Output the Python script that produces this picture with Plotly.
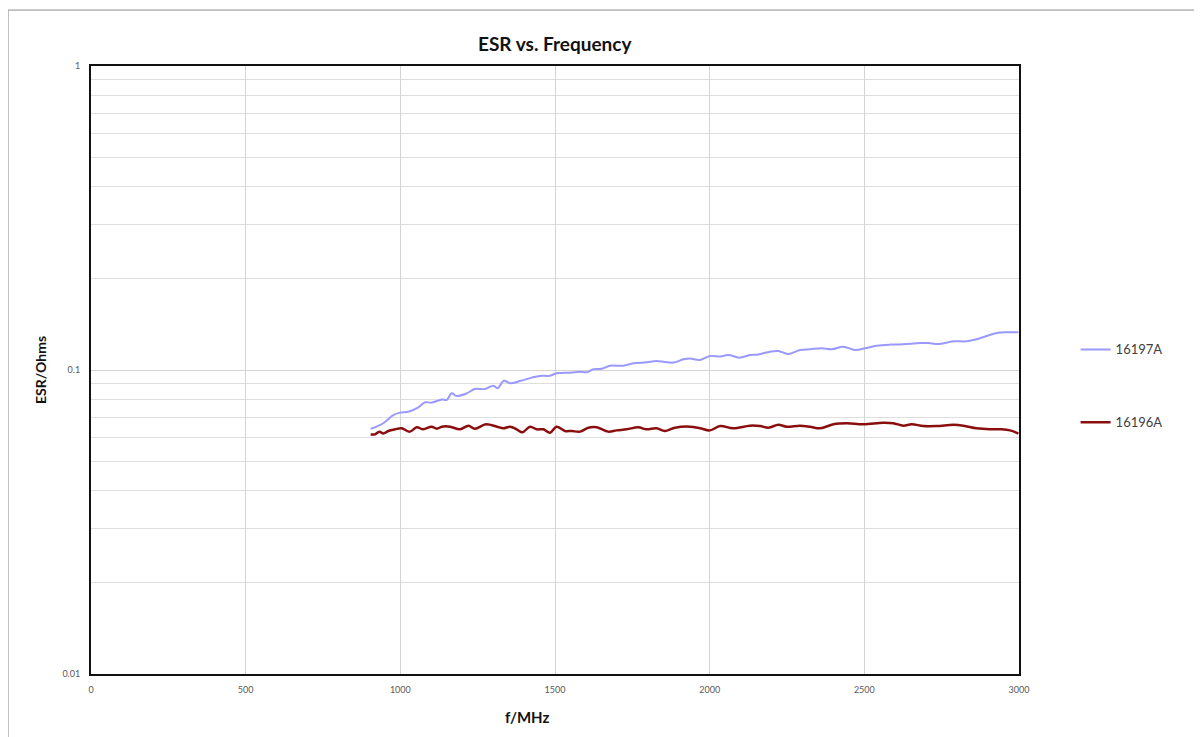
import plotly.graph_objects as go

# 16197A (blue)
f_16197A = [904, 945, 977, 999, 1026, 1058, 1080, 1101, 1134, 1150, 1166, 1182, 1215, 1241, 1274,
            1301, 1314, 1335, 1355, 1387, 1425, 1451, 1484, 1505, 1549, 1581, 1602, 1624, 1651, 1678,
            1721, 1753, 1796, 1828, 1855, 1883, 1915, 1936, 1969, 2001, 2034, 2060, 2096, 2130, 2157,
            2195, 2222, 2254, 2292, 2324, 2362, 2395, 2432, 2470, 2502, 2540, 2583, 2615, 2648, 2680,
            2707, 2739, 2788, 2831, 2863, 2896, 2928, 2960, 2998]
esr_16197A = [0.0640, 0.0668, 0.0711, 0.0724, 0.0729, 0.0754, 0.0783, 0.0781, 0.0800, 0.0798, 0.0838,
              0.0821, 0.0838, 0.0866, 0.0866, 0.0888, 0.0871, 0.0922, 0.0904, 0.0920, 0.0944, 0.0956,
              0.0958, 0.0975, 0.0980, 0.0987, 0.0983, 0.1005, 0.1010, 0.1033, 0.1033, 0.1052, 0.1060,
              0.1070, 0.1062, 0.1058, 0.1084, 0.1090, 0.1079, 0.1112, 0.1107, 0.1120, 0.1098, 0.1120,
              0.1125, 0.1149, 0.1155, 0.1129, 0.1164, 0.1170, 0.1179, 0.1170, 0.1193, 0.1164, 0.1179,
              0.1202, 0.1212, 0.1214, 0.1220, 0.1226, 0.1226, 0.1217, 0.1243, 0.1243, 0.1262, 0.1294,
              0.1323, 0.1331, 0.1331]

# 16196A (dark red)
f_16196A = [904, 918, 932, 945, 961, 983, 1004, 1031, 1053, 1074, 1101, 1118, 1134, 1161, 1193, 1220,
            1241, 1277, 1312, 1333, 1355, 1376, 1395, 1419, 1441, 1462, 1484, 1505, 1532, 1554, 1581,
            1608, 1635, 1672, 1699, 1732, 1769, 1796, 1828, 1855, 1888, 1936, 1969, 2001, 2034, 2076,
            2130, 2163, 2190, 2222, 2249, 2292, 2324, 2357, 2400, 2443, 2497, 2561, 2594, 2626, 2653,
            2691, 2734, 2788, 2820, 2863, 2906, 2944, 2971, 2998]
esr_16196A = [0.0614, 0.0614, 0.0627, 0.0618, 0.0630, 0.0638, 0.0643, 0.0627, 0.0648, 0.0638, 0.0651,
              0.0641, 0.0651, 0.0651, 0.0638, 0.0656, 0.0641, 0.0663, 0.0651, 0.0643, 0.0651, 0.0638,
              0.0624, 0.0651, 0.0638, 0.0638, 0.0622, 0.0651, 0.0630, 0.0630, 0.0627, 0.0646, 0.0648,
              0.0627, 0.0633, 0.0638, 0.0648, 0.0638, 0.0643, 0.0630, 0.0646, 0.0651, 0.0643, 0.0633,
              0.0654, 0.0643, 0.0656, 0.0654, 0.0646, 0.0660, 0.0651, 0.0656, 0.0651, 0.0643, 0.0663,
              0.0668, 0.0663, 0.0671, 0.0668, 0.0656, 0.0663, 0.0654, 0.0654, 0.0660, 0.0656, 0.0643,
              0.0638, 0.0638, 0.0633, 0.0618]

x_ticks = [0, 500, 1000, 1500, 2000, 2500, 3000]
y_ticks = [0.01, 0.1, 1]
y_tick_text = ["0.01", "0.1", "1"]
y_minor = [m * d for d in (0.01, 0.1) for m in range(2, 10)]

FONT = "Lato, 'Open Sans', sans-serif"

fig = go.Figure()
fig.add_trace(go.Scatter(x=f_16197A, y=esr_16197A, mode="lines", name="16197A",
                         line=dict(color="#9999FF", width=2, shape="spline", smoothing=1.0),
                         legendgroup="a"))
fig.add_trace(go.Scatter(x=f_16196A, y=esr_16196A, mode="lines", name="16196A",
                         line=dict(color="#8B0E0E", width=2.5, shape="spline", smoothing=1.0),
                         legendgroup="b"))

fig.update_layout(
    width=1202, height=737,
    margin=dict(l=83, r=191, t=58, b=71),
    paper_bgcolor="white", plot_bgcolor="white",
    font=dict(family=FONT, color="#595959"),
    showlegend=True,
    legend=dict(x=1.061, xanchor="left", y=0.5585, yanchor="top",
                font=dict(size=13, color="#404040"), tracegroupgap=53,
                bgcolor="rgba(0,0,0,0)"),
    xaxis=dict(range=[0, 3000], tickvals=x_ticks, ticks="", showgrid=True,
               gridcolor="#D4D4D4", gridwidth=1, showline=True, linecolor="#111111",
               linewidth=2, mirror=True, zeroline=False, ticklabelstandoff=6,
               tickfont=dict(size=9, color="#595959")),
    yaxis=dict(type="log", range=[-2, 0], tickvals=y_ticks, ticktext=y_tick_text, ticks="",
               showgrid=True, gridcolor="#D4D4D4", gridwidth=1, showline=True,
               linecolor="#111111", linewidth=2, mirror=True, zeroline=False,
               ticklabelstandoff=7,
               tickfont=dict(size=9, color="#595959"),
               minor=dict(tickvals=y_minor, showgrid=True, gridcolor="#DEDEDE", gridwidth=1,
                          ticks="")),
    annotations=[
        dict(text="<b>ESR vs. Frequency</b>", x=0.5, y=1.0, xref="paper", yref="paper",
             yshift=23, showarrow=False, font=dict(size=19, color="#111111", family=FONT),
             yanchor="middle"),
        dict(text="<b>f/MHz</b>", x=0.47, y=0, xref="paper", yref="paper", yshift=-43,
             showarrow=False, font=dict(size=15, color="#111111", family=FONT), yanchor="middle"),
        dict(text="<b>ESR/Ohms</b>", x=0, y=0.5, xref="paper", yref="paper", xshift=-51,
             textangle=-90, showarrow=False, font=dict(size=14, color="#111111", family=FONT),
             xanchor="center"),
    ],
    shapes=[
        dict(type="path", xref="paper", yref="paper",
             path="M -0.0894 -0.3 L -0.0894 1.092 L 1.35 1.092",
             line=dict(color="#8C8C8C", width=1)),
    ],
)

fig.write_html("out.html")
